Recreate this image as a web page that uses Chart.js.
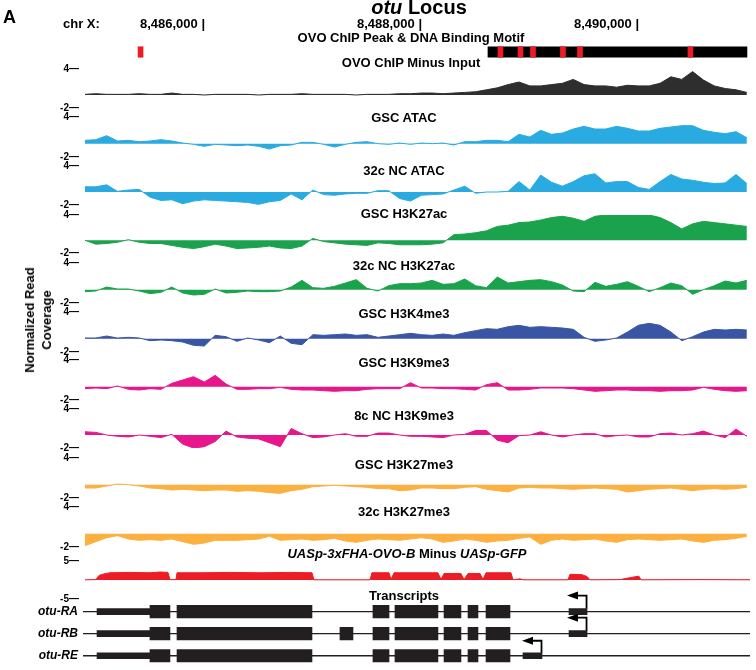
<!DOCTYPE html>
<html>
<head>
<meta charset="utf-8">
<script src="https://cdn.jsdelivr.net/npm/chart.js@4.4.0/dist/chart.umd.min.js"></script>
<style>
  html, body { margin: 0; padding: 0; background: #fff; overflow: hidden; }
  #page { position: relative; width: 756px; height: 670px; font-family: "Liberation Sans", Arial, sans-serif; color: #000; }
  canvas { position: absolute; left: 0; }
  .lbl { position: absolute; font-weight: bold; white-space: nowrap; transform: translate(-50%, -50%); font-size: 13px; line-height: 1; }
</style>
</head>
<body>
<div id="page"></div>
<script>
// window shown on chr X (bp)
const xMin = 8484866;
const xMax = 8491041;
const binStart = 8484912;
const binSize = 100;

const rulerTicks = [8486000, 8488000, 8490000];
const rulerLabels = ["8,486,000 |", "8,488,000 |", "8,490,000 |"];

// OVO ChIP peak & binding motifs
const peakRanges = [[8488626, 8491013]];
const motifRanges = [[8485401, 8485447], [8488718, 8488764], [8488903, 8488949], [8489018, 8489064],
  [8489294, 8489340], [8489451, 8489497], [8490469, 8490515]];

// coverage tracks, one value per 100 bp bin
const ovoChipMinusInput = [0.1, 0.2, 0.1, 0.1, 0.1, 0.2, 0.1, 0.1, 0.3, 0.1, 0.1, 0.0, 0.1, 0.1, 0.1, 0.1, 0.0, 0.1, 0.1, 0.1,
  0.2, 0.1, 0.1, 0.1, 0.1, 0.0, 0.1, 0.1, 0.1, 0.2, 0.2, 0.3, 0.3, 0.2, 0.3, 0.4, 0.5, 0.8, 1.1, 1.6,
  2.0, 1.4, 1.4, 1.6, 1.8, 2.4, 1.6, 1.4, 1.4, 1.2, 1.5, 1.4, 1.4, 1.8, 2.8, 2.4, 3.6, 2.3, 1.4, 1.0, 0.8, 0.4];
const gscAtac = [0.5, 0.6, 1.2, 0.4, 0.5, 0.3, 0.4, 0.6, 0.4, 0.1, -0.1, -0.4, -0.1, -0.2, -0.3, -0.2, -0.4, -0.8, -0.3, -0.2,
  0.2, 0.2, -0.1, -0.5, -0.1, 0.2, 0.3, 0.0, -0.1, 0.1, -0.1, 0.1, 0.0, 0.1, -0.2, 0.3, 0.3, 0.5, 0.5, 0.3,
  1.4, 1.0, 2.0, 1.4, 1.6, 2.2, 2.6, 2.2, 2.2, 2.6, 2.3, 1.9, 1.9, 2.3, 2.5, 2.7, 2.7, 2.0, 1.7, 1.5, 1.8, 0.9];
const nc32Atac = [0.8, 0.8, 1.1, 0.1, 0.3, 0.4, -0.8, -1.3, -1.2, -1.8, -1.4, -1.2, -1.3, -1.4, -1.5, -1.6, -1.9, -1.5, -1.3, -0.3,
  -1.2, 0.3, -0.4, -0.5, -0.3, -0.2, -0.2, 0.2, 0.2, -1.0, -1.4, -0.5, -0.4, -0.3, 0.3, 0.9, -0.2, 0.0, 0.0, 0.1,
  1.6, 0.3, 2.6, 1.5, 0.9, 1.6, 2.5, 2.8, 1.4, 1.6, 1.6, 0.7, 0.4, 1.6, 2.7, 2.0, 1.8, 1.5, 1.3, 1.4, 2.7, 1.3];
const gscH3K27ac = [0.0, -0.6, -0.5, -0.3, 0.1, -0.3, -0.5, -0.5, -0.8, -1.1, -1.3, -1.0, -0.6, -0.9, -1.3, -1.2, -1.1, -0.9, -1.2, -1.3,
  -0.9, 0.3, -0.2, -0.4, -0.6, -0.7, -0.8, -0.4, -0.5, -0.7, -0.7, -0.7, -0.6, -0.4, 0.9, 1.0, 1.2, 1.5, 2.2, 2.4,
  2.8, 2.9, 3.2, 3.6, 3.8, 3.5, 3.0, 3.8, 4.0, 4.0, 4.0, 4.0, 4.0, 3.6, 2.8, 1.8, 2.6, 3.0, 2.8, 2.6, 2.4, 2.2];
const nc32H3K27ac = [-0.3, -0.2, 0.4, 0.1, 0.1, -0.2, -0.6, -0.4, 0.4, -0.5, -0.8, -0.7, 0.1, -0.5, -0.4, -0.2, -0.3, -0.3, -0.2, 0.4,
  1.4, 0.3, 0.2, 0.5, 1.0, 1.5, 0.2, -0.2, 0.6, 0.9, 0.9, 1.0, 1.4, 0.8, 0.9, 1.6, 0.6, 0.3, 1.9, 1.0,
  1.2, 1.4, 1.5, 1.2, 0.7, -0.2, -0.3, 1.1, 0.5, 0.8, 1.2, 0.5, -0.3, 0.3, 1.0, 0.6, -0.7, 0.0, 0.6, 1.3, 1.0, 1.4];
const gscH3K4me3 = [0.1, 0.1, 0.4, 0.1, 0.2, 0.1, -0.3, -0.2, -0.3, -0.5, -1.0, -1.1, 0.5, 0.3, -0.4, 0.1, -0.2, -0.6, 0.4, -0.7,
  -0.9, 0.6, 0.5, 0.6, 0.7, 0.5, 0.6, 0.2, 0.4, 0.6, 0.8, 0.6, 0.5, 0.7, 0.5, 0.9, 1.2, 1.5, 1.4, 1.8,
  2.0, 1.7, 1.8, 1.7, 1.6, 1.4, 0.2, -0.4, -0.2, 0.1, 1.0, 2.0, 2.3, 2.0, 1.0, -0.3, 0.3, 1.0, 1.4, 1.3, 1.4, 1.3];
const gscH3K9me3 = [-0.3, -0.2, -0.3, 0.1, -0.4, -0.5, -0.3, -0.4, 0.5, 1.0, 1.5, 0.7, 1.7, 0.4, -0.4, -0.4, -0.3, -0.3, -0.1, -0.4,
  -0.5, -0.5, -0.6, -0.7, -0.6, -0.6, -0.4, -0.3, -0.3, -0.3, 0.6, -0.2, -0.2, -0.3, -0.3, -0.4, -0.5, 0.3, 0.6, -0.5,
  -0.5, -0.4, -0.2, -0.2, -0.2, -0.3, -0.5, -0.7, -0.6, -0.5, -0.5, -0.6, -0.6, -0.7, -0.6, -0.6, -0.5, -0.1, -0.4, -0.6, -0.7, -0.6];
const nc8H3K9me3 = [0.5, 0.4, 0.0, -0.2, -0.3, 0.0, -0.2, -0.4, 0.1, -1.4, -2.0, -1.8, -1.0, 0.6, -0.3, -0.5, -0.6, -1.2, -1.8, 1.0,
  0.2, -0.4, -0.3, 0.0, 0.2, -0.2, -0.2, 0.3, 0.3, 0.0, -0.2, -0.2, -0.3, -0.4, 0.0, 0.1, 0.7, 0.7, -0.8, -1.2,
  -0.1, 0.0, 0.5, 0.0, -0.3, 0.0, 0.2, 0.2, -0.3, -0.1, 0.0, -0.3, -0.3, 0.2, 0.3, 0.0, 0.2, 0.6, 0.0, -0.4, 0.9, -0.2];
const gscH3K27me3 = [-0.5, -0.5, -0.2, 0.1, 0.0, -0.2, -0.5, -0.6, -0.8, -0.7, -0.8, -0.9, -0.8, -0.8, -1.0, -0.9, -1.0, -1.2, -1.3, -0.9,
  -0.7, -0.3, -0.2, -0.1, -0.2, -0.3, -0.4, -0.6, -0.6, -0.9, -0.8, -0.5, -0.5, -0.6, -0.6, -0.4, -0.3, -0.7, -0.9, -1.1,
  -0.5, -0.4, -0.5, -0.5, -0.6, -0.7, -0.6, -0.5, -0.6, -0.7, -1.1, -0.9, -0.7, -0.6, -0.5, -0.7, -0.9, -0.7, -0.6, -0.7, -0.6, -0.4];
const nc32H3K27me3 = [-1.8, -1.2, -0.6, -0.3, -0.8, -1.0, -0.9, -1.0, -0.8, -1.2, -1.6, -1.4, -1.0, -1.0, -1.0, -0.9, -0.8, -0.4, -1.0, -0.9,
  -0.8, -1.0, -0.9, -0.7, -1.1, -1.3, -1.0, -0.8, -0.9, -1.0, -0.8, -0.6, -0.8, -1.3, -1.1, -0.8, -1.0, -1.3, -1.1, -1.0,
  -0.7, -0.5, -1.6, -1.0, -0.8, -1.0, -0.9, -0.8, -1.1, -1.3, -0.9, -0.8, -0.9, -1.0, -0.9, -0.8, -1.1, -1.3, -1.0, -0.9, -0.7, -0.4];

// UASp-3xFHA-OVO-B minus UASp-GFP (position bp, value)
const uaspPos = [8484912, 8485013, 8485041, 8485087, 8485142, 8485327, 8485511, 8485603, 8485677, 8485695, 8485751, 8485760,
  8485972, 8486248, 8486525, 8486801, 8487004, 8487022, 8487539, 8487557, 8487714, 8487732, 8487760, 8488165,
  8488193, 8488221, 8488377, 8488405, 8488442, 8488553, 8488580, 8488608, 8488838, 8488857, 8488921, 8488949,
  8489363, 8489382, 8489493, 8489539, 8489566, 8489843, 8489916, 8489971, 8490017, 8490036, 8490580, 8491041];
const uaspVal = [0.05, 0.1, 1.2, 1.6, 1.9, 2.0, 1.9, 2.1, 2.0, 0.1, 0.1, 1.9,
  1.9, 2.0, 1.9, 2.0, 1.9, 0.05, 0.05, 1.9, 1.9, 0.1, 1.9, 1.9,
  0.1, 1.7, 1.7, 0.1, 1.7, 1.7, 0.1, 1.9, 1.9, 0.05, 0.3, 0.05,
  0.05, 1.5, 1.4, 0.9, 0.05, 0.1, 0.5, 0.8, 1.0, 0.05, 0.1, 0.05];

// transcripts
const transcriptNames = ["otu-RA", "otu-RB", "otu-RE"];
const exonsRA = [[8485511, 8485695], [8485760, 8487004], [8487566, 8487714], [8487769, 8488165], [8488221, 8488377], [8488442, 8488534], [8488608, 8488829]];
const exonsRB = [[8485511, 8485695], [8485760, 8487004], [8487262, 8487382], [8487566, 8487714], [8487769, 8488165], [8488221, 8488377], [8488442, 8488534], [8488608, 8488829]];
const exonsRE = [[8485511, 8485695], [8485760, 8487004], [8487566, 8487714], [8487769, 8488165], [8488221, 8488377], [8488442, 8488534], [8488608, 8488829]];
const utrRA = [[8485023, 8485511], [8489373, 8489539]];
const utrRB = [[8485023, 8485511], [8489373, 8489539]];
const utrRE = [[8485023, 8485511], [8488949, 8489124]];
const tssPos = [8489539, 8489539, 8489124];

const trackTicks = [-2, 4];
const uaspTicks = [-5, 5];

const trackNames = ["OVO ChIP Minus Input", "GSC ATAC", "32c NC ATAC", "GSC H3K27ac", "32c NC H3K27ac",
  "GSC H3K4me3", "GSC H3K9me3", "8c NC H3K9me3", "GSC H3K27me3", "32c H3K27me3"];
const trackSeries = [ovoChipMinusInput, gscAtac, nc32Atac, gscH3K27ac, nc32H3K27ac,
  gscH3K4me3, gscH3K9me3, nc8H3K9me3, gscH3K27me3, nc32H3K27me3];
const trackColors = ["#2e2e2e", "#29abe2", "#29abe2", "#1ba24c", "#1ba24c",
  "#3b55a5", "#e8168b", "#e8168b", "#fbb040", "#fbb040"];

// layout (page px)
const trackTop = [69, 117, 166, 215, 263, 312, 360, 409, 458, 507];
const trackBottom = [108, 157, 205, 253, 303, 352, 400, 448, 498, 547];
const titleY = [62, 117, 170, 213, 265, 313, 362, 415, 464, 511];
const FONT = '"Liberation Sans", Arial, sans-serif';

Chart.defaults.font.family = FONT;
Chart.defaults.color = "#000";

const page = document.getElementById("page");

function addCanvas(top, height) {
    let c = document.createElement("canvas");
    c.width = 756;
    c.height = height;
    c.style.top = top + "px";
    page.appendChild(c);
    return c;
}

function addLabel(html, x, y, extra) {
    let d = document.createElement("div");
    d.className = "lbl";
    d.innerHTML = html;
    d.style.left = x + "px";
    d.style.top = y + "px";
    if (extra) Object.assign(d.style, extra);
    page.appendChild(d);
    return d;
}

const baseOptions = {
    animation: false,
    responsive: false,
    devicePixelRatio: 1,
    events: [],
    plugins: { legend: { display: false }, tooltip: { enabled: false } }
};

// y ticks only at the track limits, written "4—" like the browser tracks
function yAxis(ticks) {
    return {
        min: ticks[0],
        max: ticks[1],
        afterFit: s => { s.width = 80; },
        afterBuildTicks: s => { s.ticks = ticks.map(v => ({ value: v })); },
        grid: { display: false, drawTicks: false },
        border: { display: false },
        ticks: {
            font: { size: 10, weight: "bold" },
            color: "#000",
            padding: 1,
            callback: v => v + "\u2014"
        }
    };
}

// signal track
function makeTrack(top, bottom, points, color, ticks) {
    const pad = 8;
    let canvas = addCanvas(top - pad, bottom - top + 2 * pad);
    new Chart(canvas, {
        type: "line",
        data: {
            datasets: [{
                data: points,
                borderColor: color,
                backgroundColor: color,
                borderWidth: 1,
                pointRadius: 0,
                fill: "origin",
                tension: 0
            }]
        },
        options: Object.assign({}, baseOptions, {
            layout: { padding: { top: pad, bottom: pad, left: 0, right: 6 } },
            scales: {
                x: { type: "linear", min: xMin, max: xMax, display: false },
                y: yAxis(ticks)
            }
        })
    });
}

trackSeries.forEach((vals, i) => {
    let pts = vals.map((v, j) => ({ x: binStart + j * binSize, y: v }));
    makeTrack(trackTop[i], trackBottom[i], pts, trackColors[i], trackTicks);
});

makeTrack(561, 599, uaspPos.map((p, j) => ({ x: p, y: uaspVal[j] })), "#ee1c25", uaspTicks);

// header: ruler + peak / motif bar
const rulerPlugin = {
    id: "ruler",
    afterDraw(chart) {
        let ctx = chart.ctx;
        let xs = chart.scales.x;
        ctx.save();
        ctx.font = "bold 13px " + FONT;
        ctx.fillStyle = "#000";
        ctx.textAlign = "right";
        ctx.textBaseline = "alphabetic";
        rulerTicks.forEach((t, i) => {
            ctx.fillText(rulerLabels[i], xs.getPixelForValue(t) + 2, 28);
        });
        ctx.restore();
    }
};

new Chart(addCanvas(0, 62), {
    type: "bar",
    data: {
        labels: ["peak"],
        datasets: [
            { data: motifRanges.map(r => ({ x: r, y: "peak" })), backgroundColor: "#ed1c24", barThickness: 10.5, grouped: false },
            { data: peakRanges.map(r => ({ x: r, y: "peak" })), backgroundColor: "#000", barThickness: 10.5, grouped: false }
        ]
    },
    options: Object.assign({}, baseOptions, {
        indexAxis: "y",
        layout: { padding: { top: 42, bottom: 0, left: 80, right: 6 } },
        scales: {
            x: { type: "linear", min: xMin, max: xMax, display: false },
            y: { type: "category", display: false }
        }
    }),
    plugins: [rulerPlugin]
});

// transcripts
const geneLinePlugin = {
    id: "geneLines",
    beforeDatasetsDraw(chart) {
        let ctx = chart.ctx;
        let ys = chart.scales.y;
        ctx.save();
        ctx.strokeStyle = "#231f20";
        ctx.lineWidth = 1.3;
        transcriptNames.forEach((n, i) => {
            let y = ys.getPixelForValue(i);
            ctx.beginPath();
            ctx.moveTo(chart.chartArea.left + 3, y);
            ctx.lineTo(chart.chartArea.right, y);
            ctx.stroke();
        });
        ctx.restore();
    },
    afterDatasetsDraw(chart) {
        let ctx = chart.ctx;
        let xs = chart.scales.x, ys = chart.scales.y;
        ctx.save();
        ctx.strokeStyle = "#000";
        ctx.fillStyle = "#000";
        ctx.lineWidth = 1.8;
        tssPos.forEach((p, i) => {
            let x = xs.getPixelForValue(p);
            let y = ys.getPixelForValue(i);
            let h = i === 2 ? 15 : 16;
            ctx.beginPath();
            ctx.moveTo(x - 0.5, y - 3);
            ctx.lineTo(x - 0.5, y - h);
            ctx.lineTo(x - 10, y - h);
            ctx.stroke();
            ctx.beginPath();
            ctx.moveTo(x - 20, y - h);
            ctx.lineTo(x - 9, y - h - 4);
            ctx.lineTo(x - 9, y - h + 4);
            ctx.closePath();
            ctx.fill();
        });
        ctx.restore();
    }
};

function spans(lists) {
    let out = [];
    lists.forEach((l, i) => l.forEach(r => out.push({ x: r, y: transcriptNames[i] })));
    return out;
}

new Chart(addCanvas(588, 88), {
    type: "bar",
    data: {
        labels: transcriptNames,
        datasets: [
            { data: spans([exonsRA, exonsRB, exonsRE]), backgroundColor: "#231f20", barThickness: 12.5, grouped: false },
            { data: spans([utrRA, utrRB, utrRE]), backgroundColor: "#231f20", barThickness: 6, grouped: false }
        ]
    },
    options: Object.assign({}, baseOptions, {
        indexAxis: "y",
        layout: { padding: { top: 12.5, bottom: 0.5, left: 0, right: 6 } },
        scales: {
            x: { type: "linear", min: xMin, max: xMax, display: false },
            y: {
                type: "category",
                afterFit: s => { s.width = 80; },
                grid: { display: false, drawTicks: false },
                border: { display: false },
                ticks: { font: { size: 12, weight: "bold", style: "italic" }, color: "#000", padding: 2 }
            }
        }
    }),
    plugins: [geneLinePlugin]
});

// text
addLabel("A", 3, 8, { transform: "none", fontSize: "18px" });
addLabel("<i>otu</i> Locus", 419, 7, { fontSize: "20px" });
addLabel("chr X:", 63, 17, { transform: "none" });
addLabel("OVO ChIP Peak &amp; DNA Binding Motif", 411, 37);
trackNames.forEach((n, i) => addLabel(n, i === 0 ? 411 : 404, titleY[i]));
addLabel("<i>UASp-3xFHA-OVO-B</i> Minus <i>UASp-GFP</i>", 407, 553);
addLabel("Transcripts", 404, 595);
addLabel("Normalized Read<br>Coverage", 38, 320, { transform: "translate(-50%, -50%) rotate(-90deg)", lineHeight: "17px", textAlign: "center" });
</script>
</body>
</html>
